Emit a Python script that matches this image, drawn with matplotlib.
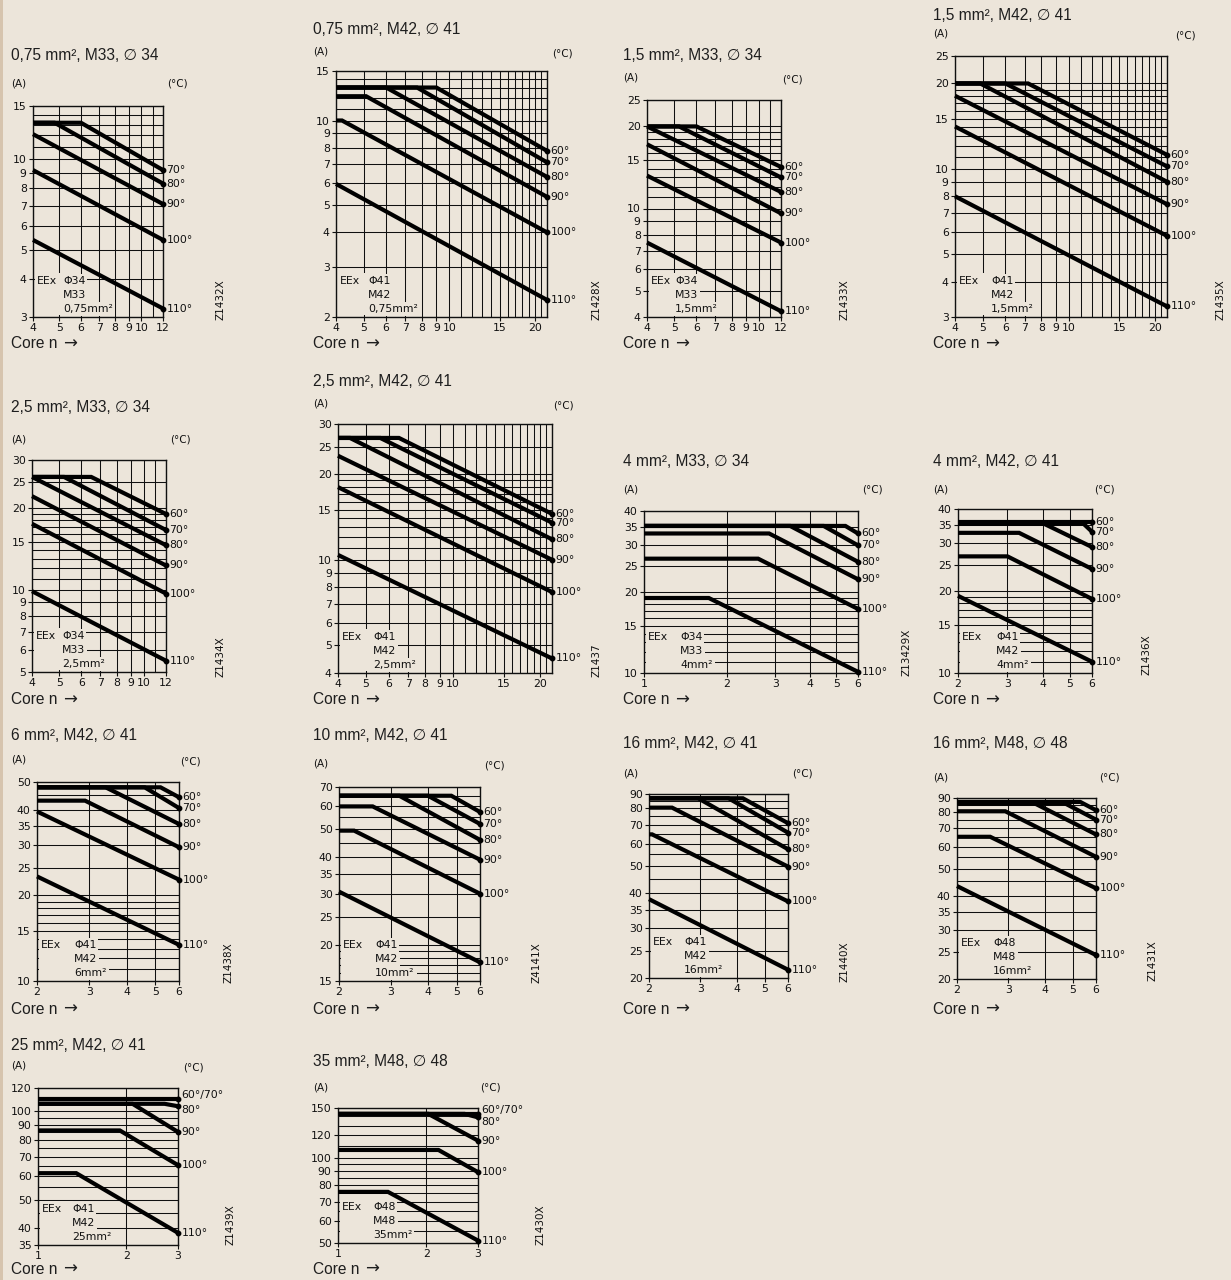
import matplotlib
matplotlib.use("Agg")
import matplotlib.pyplot as plt
from matplotlib.ticker import FixedLocator, FixedFormatter, NullLocator
from matplotlib.patches import Rectangle

plt.rcParams['font.family'] = ['DejaVu Sans']

W, H = 1231, 1280
BG = "#ece5da"
INK = "#101010"
SANS = ['Liberation Sans', 'DejaVu Sans']

# ---------------------------------------------------------------- data
P01_TITLE = "0,75 mm², M33, ∅ 34"
P01_XLIM, P01_YLIM = (4, 12), (3, 15)
P01_XTICKS = [4, 5, 6, 7, 8, 9, 10, 12]
P01_YTICKS = [3, 4, 5, 6, 7, 8, 9, 10, 15]
P01_XGRID = [4, 5, 6, 7, 8, 9, 10, 11, 12]
P01_YGRID = [3, 4, 5, 6, 7, 8, 9, 10, 11, 12, 13, 14, 15]
P01_CURVES = {"70°": ([4, 6, 12], [13.2, 13.2, 9.2]),
              "80°": ([4, 4.8, 12], [13.2, 13.2, 8.3]),
              "90°": ([4, 12], [12.1, 7.1]),
              "100°": ([4, 12], [9.2, 5.4]),
              "110°": ([4, 12], [5.4, 3.2])}
P01_BOX = ["Φ34", "M33", "0,75mm²"]
P01_CODE = "Z1432X"

P02_TITLE = "0,75 mm², M42, ∅ 41"
P02_XLIM, P02_YLIM = (4, 22), (2, 15)
P02_XTICKS = [4, 5, 6, 7, 8, 9, 10, 15, 20]
P02_YTICKS = [2, 3, 4, 5, 6, 7, 8, 9, 10, 15]
P02_XGRID = list(range(4, 23))
P02_YGRID = list(range(2, 16))
P02_CURVES = {"60°": ([4, 9, 22], [13.1, 13.1, 7.8]),
              "70°": ([4, 7.7, 22], [13.1, 13.1, 7.1]),
              "80°": ([4, 6, 22], [13.1, 13.1, 6.3]),
              "90°": ([4, 5.1, 22], [12.2, 12.2, 5.35]),
              "100°": ([4, 4.2, 22], [10, 10, 4.0]),
              "110°": ([4, 22], [5.95, 2.3])}
P02_BOX = ["Φ41", "M42", "0,75mm²"]
P02_CODE = "Z1428X"

P03_TITLE = "1,5 mm², M33, ∅ 34"
P03_XLIM, P03_YLIM = (4, 12), (4, 25)
P03_XTICKS = [4, 5, 6, 7, 8, 9, 10, 12]
P03_YTICKS = [4, 5, 6, 7, 8, 9, 10, 15, 20, 25]
P03_XGRID = list(range(4, 13))
P03_YGRID = list(range(4, 21)) + [25]
P03_CURVES = {"60°": ([4, 6, 12], [20, 20, 14.2]),
              "70°": ([4, 5.2, 12], [20, 20, 13.0]),
              "80°": ([4, 12], [20, 11.5]),
              "90°": ([4, 12], [17.2, 9.6]),
              "100°": ([4, 12], [13.2, 7.5]),
              "110°": ([4, 12], [7.5, 4.2])}
P03_BOX = ["Φ34", "M33", "1,5mm²"]
P03_CODE = "Z1433X"

P04_TITLE = "1,5 mm², M42, ∅ 41"
P04_XLIM, P04_YLIM = (4, 22), (3, 25)
P04_XTICKS = [4, 5, 6, 7, 8, 9, 10, 15, 20]
P04_YTICKS = [3, 4, 5, 6, 7, 8, 9, 10, 15, 20, 25]
P04_XGRID = list(range(4, 23))
P04_YGRID = list(range(3, 21)) + [25]
P04_CURVES = {"60°": ([4, 7.2, 22], [20, 20, 11.2]),
              "70°": ([4, 6, 22], [20, 20, 10.2]),
              "80°": ([4, 4.9, 22], [20, 20, 9.0]),
              "90°": ([4, 22], [18.1, 7.5]),
              "100°": ([4, 22], [14.1, 5.8]),
              "110°": ([4, 22], [8.0, 3.27])}
P04_BOX = ["Φ41", "M42", "1,5mm²"]
P04_CODE = "Z1435X"

P05_TITLE = "2,5 mm², M33, ∅ 34"
P05_XLIM, P05_YLIM = (4, 12), (5, 30)
P05_XTICKS = [4, 5, 6, 7, 8, 9, 10, 12]
P05_YTICKS = [5, 6, 7, 8, 9, 10, 15, 20, 25, 30]
P05_XGRID = list(range(4, 13))
P05_YGRID = list(range(5, 21)) + [25, 30]
P05_CURVES = {"60°": ([4, 6.5, 12], [26, 26, 19]),
              "70°": ([4, 5.2, 12], [26, 26, 16.6]),
              "80°": ([4, 12], [26, 14.6]),
              "90°": ([4, 12], [22.1, 12.3]),
              "100°": ([4, 12], [17.5, 9.7]),
              "110°": ([4, 12], [9.9, 5.5])}
P05_BOX = ["Φ34", "M33", "2,5mm²"]
P05_CODE = "Z1434X"

P06_TITLE = "2,5 mm², M42, ∅ 41"
P06_XLIM, P06_YLIM = (4, 22), (4, 30)
P06_XTICKS = [4, 5, 6, 7, 8, 9, 10, 15, 20]
P06_YTICKS = [4, 5, 6, 7, 8, 9, 10, 15, 20, 25, 30]
P06_XGRID = list(range(4, 23))
P06_YGRID = list(range(4, 21)) + [25, 30]
P06_CURVES = {"60°": ([4, 6.5, 22], [26.8, 26.8, 14.5]),
              "70°": ([4, 5.6, 22], [26.8, 26.8, 13.5]),
              "80°": ([4, 4.4, 22], [26.8, 26.8, 11.8]),
              "90°": ([4, 22], [23.2, 10.0]),
              "100°": ([4, 22], [18.0, 7.7]),
              "110°": ([4, 22], [10.4, 4.5])}
P06_BOX = ["Φ41", "M42", "2,5mm²"]
P06_CODE = "Z1437"

P07_TITLE = "4 mm², M33, ∅ 34"
P07_XLIM, P07_YLIM = (1, 6), (10, 40)
P07_XTICKS = [1, 2, 3, 4, 5, 6]
P07_YTICKS = [10, 15, 20, 25, 30, 35, 40]
P07_XGRID = [1, 2, 3, 4, 5, 6]
P07_YGRID = list(range(10, 21)) + [25, 30, 35, 40]
P07_CURVES = {"60°": ([1, 5.4, 6], [35.2, 35.2, 33]),
              "70°": ([1, 4.5, 6], [35.2, 35.2, 29.8]),
              "80°": ([1, 3.4, 6], [35.2, 35.2, 25.9]),
              "90°": ([1, 2.85, 6], [33, 33, 22.3]),
              "100°": ([1, 2.6, 6], [26.6, 26.6, 17.3]),
              "110°": ([1, 1.72, 6], [19, 19, 10.1])}
P07_BOX = ["Φ34", "M33", "4mm²"]
P07_CODE = "Z13429X"

P08_TITLE = "4 mm², M42, ∅ 41"
P08_XLIM, P08_YLIM = (2, 6), (10, 40)
P08_XTICKS = [2, 3, 4, 5, 6]
P08_YTICKS = [10, 15, 20, 25, 30, 35, 40]
P08_XGRID = [2, 3, 4, 5, 6]
P08_YGRID = list(range(10, 21)) + [25, 30, 35, 40]
P08_CURVES = {"60°": ([2, 6], [35.8, 35.8]),
              "70°": ([2, 5.6, 6], [35.3, 35.3, 33]),
              "80°": ([2, 4.05, 6], [35.3, 35.3, 29]),
              "90°": ([2, 3.3, 6], [32.7, 32.7, 24.1]),
              "100°": ([2, 3, 6], [26.8, 26.8, 18.7]),
              "110°": ([2, 6], [19.2, 11])}
P08_BOX = ["Φ41", "M42", "4mm²"]
P08_CODE = "Z1436X"

P09_TITLE = "6 mm², M42, ∅ 41"
P09_XLIM, P09_YLIM = (2, 6), (10, 50)
P09_XTICKS = [2, 3, 4, 5, 6]
P09_YTICKS = [10, 15, 20, 25, 30, 35, 40, 50]
P09_XGRID = [2, 3, 4, 5, 6]
P09_YGRID = list(range(10, 21)) + [25, 30, 35, 40, 45, 50]
P09_CURVES = {"60°": ([2, 5.2, 6], [47.9, 47.9, 44.2]),
              "70°": ([2, 4.6, 6], [47.9, 47.9, 40.5]),
              "80°": ([2, 3.4, 6], [47.9, 47.9, 35.6]),
              "90°": ([2, 2.9, 6], [43, 43, 29.5]),
              "100°": ([2, 6], [39.4, 22.7]),
              "110°": ([2, 6], [23.3, 13.4])}
P09_BOX = ["Φ41", "M42", "6mm²"]
P09_CODE = "Z1438X"

P10_TITLE = "10 mm², M42, ∅ 41"
P10_XLIM, P10_YLIM = (2, 6), (15, 70)
P10_XTICKS = [2, 3, 4, 5, 6]
P10_YTICKS = [15, 20, 25, 30, 35, 40, 50, 60, 70]
P10_XGRID = [2, 3, 4, 5, 6]
P10_YGRID = [15, 16, 17, 18, 19, 20, 25, 30, 35, 40, 45, 50, 55, 60, 65, 70]
P10_CURVES = {"60°": ([2, 4.8, 6], [65.3, 65.3, 57.4]),
              "70°": ([2, 4.0, 6], [65.3, 65.3, 52.2]),
              "80°": ([2, 3.2, 6], [65.3, 65.3, 46]),
              "90°": ([2, 2.6, 6], [60, 60, 39.3]),
              "100°": ([2, 2.25, 6], [49.5, 49.5, 30]),
              "110°": ([2, 6], [30.5, 17.4])}
P10_BOX = ["Φ41", "M42", "10mm²"]
P10_CODE = "Z4141X"

P11_TITLE = "16 mm², M42, ∅ 41"
P11_XLIM, P11_YLIM = (2, 6), (20, 90)
P11_XTICKS = [2, 3, 4, 5, 6]
P11_YTICKS = [20, 25, 30, 35, 40, 50, 60, 70, 80, 90]
P11_XGRID = [2, 3, 4, 5, 6]
P11_YGRID = [20, 25, 30, 35, 40, 45, 50, 55, 60, 65, 70, 75, 80, 85, 90]
P11_CURVES = {"60°": ([2, 4.2, 6], [86.9, 86.9, 70.9]),
              "70°": ([2, 3.75, 6], [86.9, 86.9, 65.6]),
              "80°": ([2, 2.95, 6], [86.9, 86.9, 57.3]),
              "90°": ([2, 2.4, 6], [80.5, 80.5, 49.7]),
              "100°": ([2, 2.05, 6], [64.7, 64.7, 37.4]),
              "110°": ([2, 6], [38.1, 21.4])}
P11_BOX = ["Φ41", "M42", "16mm²"]
P11_CODE = "Z1440X"

P12_TITLE = "16 mm², M48, ∅ 48"
P12_XLIM, P12_YLIM = (2, 6), (20, 90)
P12_XTICKS = [2, 3, 4, 5, 6]
P12_YTICKS = [20, 25, 30, 35, 40, 50, 60, 70, 80, 90]
P12_XGRID = [2, 3, 4, 5, 6]
P12_YGRID = [20, 25, 30, 35, 40, 45, 50, 55, 60, 65, 70, 75, 80, 85, 90]
P12_CURVES = {"60°": ([2, 5.3, 6], [87.1, 87.1, 81.3]),
              "70°": ([2, 4.7, 6], [86, 86, 75.2]),
              "80°": ([2, 3.7, 6], [86, 86, 66.5]),
              "90°": ([2, 2.93, 6], [80.6, 80.6, 55.2]),
              "100°": ([2, 2.6, 6], [65.2, 65.2, 42.5]),
              "110°": ([2, 6], [43.3, 24.4])}
P12_BOX = ["Φ48", "M48", "16mm²"]
P12_CODE = "Z1431X"

P13_TITLE = "25 mm², M42, ∅ 41"
P13_XLIM, P13_YLIM = (1, 3), (35, 120)
P13_XTICKS = [1, 2, 3]
P13_YTICKS = [35, 40, 50, 60, 70, 80, 90, 100, 120]
P13_XGRID = [1, 2, 3]
P13_YGRID = [35, 40, 45, 50, 55, 60, 65, 70, 75, 80, 85, 90, 95, 100, 110, 120]
P13_CURVES = {"60°/70°": ([1, 3], [110, 110]),
              "80°": ([1, 2.7, 3], [106, 106, 104]),
              "90°": ([1, 2.1, 3], [106, 106, 85]),
              "100°": ([1, 1.9, 3], [86, 86, 65.5]),
              "110°": ([1, 1.35, 3], [61.5, 61.5, 38.5])}
P13_BOX = ["Φ41", "M42", "25mm²"]
P13_CODE = "Z1439X"

P14_TITLE = "35 mm², M48, ∅ 48"
P14_XLIM, P14_YLIM = (1, 3), (50, 150)
P14_XTICKS = [1, 2, 3]
P14_YTICKS = [50, 60, 70, 80, 90, 100, 120, 150]
P14_XGRID = [1, 2, 3]
P14_YGRID = [50, 55, 60, 65, 70, 75, 80, 85, 90, 95, 100, 110, 120, 130, 140, 150]
P14_CURVES = {"60°/70°": ([1, 3], [143, 143]),
              "80°": ([1, 2.7, 3], [143, 143, 139]),
              "90°": ([1, 2.03, 3], [143, 143, 115]),
              "100°": ([1, 2.2, 3], [106.6, 106.6, 89]),
              "110°": ([1, 1.48, 3], [75.8, 75.8, 51])}
P14_BOX = ["Φ48", "M48", "35mm²"]
P14_CODE = "Z1430X"

# ---------------------------------------------------------------- layout (pixels)
# box = (left, right, top, bottom); tx/ty title; ay = y of (A); cx = centre of (°C)
LAYOUT = [
    dict(box=(33, 163, 106, 317), tx=11, ty=55, ay=83, cx=177, cy=344, code=(221, 300), col2=30),
    dict(box=(336, 547, 71, 317), tx=313, ty=29, ay=52, cx=562, cy=344, code=(597, 300), col2=32),
    dict(box=(647, 781, 100, 317), tx=623, ty=55, ay=78, cx=792, cy=344, code=(845, 300), col2=28),
    dict(box=(955, 1167, 56, 317), tx=933, ty=15, ay=34, cx=1185, cy=344, code=(1221, 300), col2=36),
    dict(box=(32, 166, 460, 672), tx=11, ty=408, ay=439, cx=180, cy=700, code=(220, 657), col2=30),
    dict(box=(338, 552, 424, 673), tx=313, ty=381, ay=404, cx=563, cy=700, code=(597, 660), col2=35),
    dict(box=(644, 858, 511, 673), tx=623, ty=462, ay=489, cx=872, cy=700, code=(906, 652), col2=36),
    dict(box=(958, 1092, 509, 673), tx=933, ty=462, ay=489, cx=1104, cy=700, code=(1146, 655), col2=38),
    dict(box=(37, 179, 782, 981), tx=11, ty=736, ay=760, cx=190, cy=1009, code=(229, 963), col2=37),
    dict(box=(339, 480, 787, 981), tx=313, ty=736, ay=764, cx=494, cy=1009, code=(536, 963), col2=36),
    dict(box=(649, 788, 794, 978), tx=623, ty=744, ay=773, cx=802, cy=1009, code=(844, 962), col2=35),
    dict(box=(957, 1096, 798, 979), tx=933, ty=744, ay=777, cx=1109, cy=1009, code=(1152, 961), col2=36),
    dict(box=(38, 178, 1088, 1245), tx=11, ty=1046, ay=1066, cx=193, cy=1269, code=(231, 1225), col2=34,
         dy={"60°/70°": 3, "80°": -3}),
    dict(box=(338, 478, 1108, 1243), tx=313, ty=1061, ay=1087, cx=490, cy=1269, code=(541, 1225), col2=35,
         dy={"60°/70°": 3, "80°": -3}),
]

PANELS = [
    (P01_TITLE, P01_XLIM, P01_YLIM, P01_XTICKS, P01_YTICKS, P01_XGRID, P01_YGRID, P01_CURVES, P01_BOX, P01_CODE),
    (P02_TITLE, P02_XLIM, P02_YLIM, P02_XTICKS, P02_YTICKS, P02_XGRID, P02_YGRID, P02_CURVES, P02_BOX, P02_CODE),
    (P03_TITLE, P03_XLIM, P03_YLIM, P03_XTICKS, P03_YTICKS, P03_XGRID, P03_YGRID, P03_CURVES, P03_BOX, P03_CODE),
    (P04_TITLE, P04_XLIM, P04_YLIM, P04_XTICKS, P04_YTICKS, P04_XGRID, P04_YGRID, P04_CURVES, P04_BOX, P04_CODE),
    (P05_TITLE, P05_XLIM, P05_YLIM, P05_XTICKS, P05_YTICKS, P05_XGRID, P05_YGRID, P05_CURVES, P05_BOX, P05_CODE),
    (P06_TITLE, P06_XLIM, P06_YLIM, P06_XTICKS, P06_YTICKS, P06_XGRID, P06_YGRID, P06_CURVES, P06_BOX, P06_CODE),
    (P07_TITLE, P07_XLIM, P07_YLIM, P07_XTICKS, P07_YTICKS, P07_XGRID, P07_YGRID, P07_CURVES, P07_BOX, P07_CODE),
    (P08_TITLE, P08_XLIM, P08_YLIM, P08_XTICKS, P08_YTICKS, P08_XGRID, P08_YGRID, P08_CURVES, P08_BOX, P08_CODE),
    (P09_TITLE, P09_XLIM, P09_YLIM, P09_XTICKS, P09_YTICKS, P09_XGRID, P09_YGRID, P09_CURVES, P09_BOX, P09_CODE),
    (P10_TITLE, P10_XLIM, P10_YLIM, P10_XTICKS, P10_YTICKS, P10_XGRID, P10_YGRID, P10_CURVES, P10_BOX, P10_CODE),
    (P11_TITLE, P11_XLIM, P11_YLIM, P11_XTICKS, P11_YTICKS, P11_XGRID, P11_YGRID, P11_CURVES, P11_BOX, P11_CODE),
    (P12_TITLE, P12_XLIM, P12_YLIM, P12_XTICKS, P12_YTICKS, P12_XGRID, P12_YGRID, P12_CURVES, P12_BOX, P12_CODE),
    (P13_TITLE, P13_XLIM, P13_YLIM, P13_XTICKS, P13_YTICKS, P13_XGRID, P13_YGRID, P13_CURVES, P13_BOX, P13_CODE),
    (P14_TITLE, P14_XLIM, P14_YLIM, P14_XTICKS, P14_YTICKS, P14_XGRID, P14_YGRID, P14_CURVES, P14_BOX, P14_CODE),
]

fig = plt.figure(figsize=(W / 100, H / 100), dpi=100, facecolor=BG)
fig.patches.append(Rectangle((0, 0), 3 / W, 1, transform=fig.transFigure,
                             facecolor="#d6c4ae", edgecolor="none"))


def fx(x):
    return x / W


def fy(y):
    return 1 - y / H


for (title, xlim, ylim, xticks, yticks, xgrid, ygrid, curves, box, code), lay in zip(PANELS, LAYOUT):
    l, r, t, b = lay["box"]
    bw, bh = r - l, b - t
    ax = fig.add_axes([fx(l), fy(b), bw / W, bh / H])
    ax.set_facecolor(BG)
    ax.set_xscale("log")
    ax.set_yscale("log")
    ax.set_xlim(*xlim)
    ax.set_ylim(*ylim)
    ax.xaxis.set_major_locator(FixedLocator(xticks))
    ax.xaxis.set_major_formatter(FixedFormatter([str(v) for v in xticks]))
    ax.xaxis.set_minor_locator(NullLocator())
    ax.yaxis.set_major_locator(FixedLocator(yticks))
    ax.yaxis.set_major_formatter(FixedFormatter([str(v) for v in yticks]))
    ax.yaxis.set_minor_locator(NullLocator())
    ax.tick_params(which="major", length=3, width=0.8, color=INK, labelsize=7.8,
                   pad=1.5, labelcolor=INK)
    for s in ax.spines.values():
        s.set_color(INK)
        s.set_linewidth(1.0)
    for v in xgrid:
        ax.axvline(v, color=INK, lw=0.75, zorder=1)
    for v in ygrid:
        ax.axhline(v, color=INK, lw=0.75, zorder=1)

    dys = lay.get("dy", {})
    for lab, (xs, ys) in curves.items():
        ax.plot(xs, ys, color="black", lw=3.0, solid_capstyle="butt",
                solid_joinstyle="miter", zorder=4, clip_on=False)
        ax.plot([xs[-1]], [ys[-1]], "o", ms=3.2, color="black", zorder=5, clip_on=False)
        ax.annotate(lab, (xs[-1], ys[-1]), xytext=(2.5, dys.get(lab, 0)),
                    textcoords="offset points", ha="left", va="center",
                    fontsize=7.8, color=INK, annotation_clip=False)

    # label block inside the plot (masks the grid behind it)
    ax.add_patch(Rectangle((1.5 / bw, 2 / bh), (lay["col2"] - 1) / bw, 42 / bh,
                           transform=ax.transAxes, facecolor=BG, edgecolor="none", zorder=2))
    bb = dict(facecolor=BG, edgecolor="none", pad=1.5)
    ax.text(4 / bw, 36 / bh, "EEx", transform=ax.transAxes, fontsize=7.8,
            ha="left", va="center", color=INK, zorder=3)
    for txt, off in zip(box, [36, 22, 8]):
        ax.text(lay["col2"] / bw, off / bh, txt, transform=ax.transAxes, fontsize=7.8,
                ha="left", va="center", color=INK, zorder=3, bbox=bb)

    # texts around the plot
    fig.text(fx(lay["tx"]), fy(lay["ty"]), title, fontsize=11.2, family=SANS,
             ha="left", va="center", color="#1e1e1e")
    fig.text(fx(lay["tx"]), fy(lay["ay"]), "(A)", fontsize=7.5, ha="left",
             va="center", color=INK)
    fig.text(fx(lay["cx"]), fy(lay["ay"] + 1), "(°C)", fontsize=7.5, ha="center",
             va="center", color=INK)
    fig.text(fx(lay["tx"]), fy(lay["cy"]), "Core n", fontsize=11.2, family=SANS,
             ha="left", va="center", color="#1e1e1e")
    fig.text(fx(lay["tx"] + 52), fy(lay["cy"]), "→", fontsize=12, family=['DejaVu Sans'],
             ha="left", va="center", color="#1e1e1e")
    fig.text(fx(lay["code"][0]), fy(lay["code"][1]), code, fontsize=7.5,
             rotation=90, ha="center", va="center", color=INK)

fig.savefig("out.png", dpi=100, facecolor=BG)
